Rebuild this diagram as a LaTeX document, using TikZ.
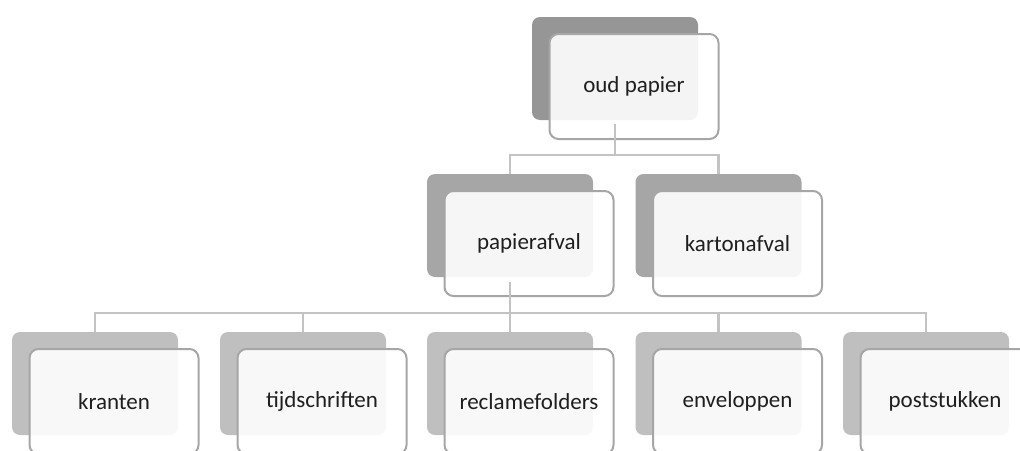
\documentclass[tikz,border=0pt]{standalone}
\usepackage{fontspec}
\setmainfont{Carlito}
\begin{document}
\definecolor{backA}{HTML}{969696}
\definecolor{backB}{HTML}{A6A6A6}
\definecolor{backC}{HTML}{BFBFBF}
\definecolor{edgegray}{HTML}{A6A6A6}
\definecolor{linkgray}{HTML}{C3C3C3}
\definecolor{inkgray}{HTML}{1F1F1F}
\begin{tikzpicture}[x=1pt,y=-1pt,
  backbox/.style={draw=none, rounded corners=8pt, minimum width=166pt, minimum height=103pt, inner sep=0pt},
  frontbox/.style={draw=edgegray, line width=2pt, fill=white, fill opacity=0.9, text opacity=1,
    rounded corners=9pt, minimum width=169pt, minimum height=105pt, inner sep=0pt,
    text=inkgray, font=\fontsize{23}{28}\selectfont},
  link/.style={draw=linkgray, line width=2.5pt}]
\useasboundingbox (0,0) rectangle (1020,450);
\clip (0,0) rectangle (1020,450);

% top level
\node[backbox, fill=backA] (b0) at (615,68.5) {};
\node[frontbox] (f0) at (634,86.5) {oud papier};

% second level
\node[backbox, fill=backB] (b1) at (510,225.5) {};
\node[frontbox] (f1) at (529,243.5) {papierafval};
\node[backbox, fill=backB] (b2) at (718.5,225.5) {};
\node[frontbox] (f2) at (737.5,243.5) {kartonafval};

% third level
\foreach \i/\x/\t in {3/95/kranten, 4/303/tijdschriften, 5/510/reclamefolders,
                       6/718.5/enveloppen, 7/926/poststukken}{
  \node[backbox, fill=backC] (b\i) at (\x,383.5) {};
  \node[frontbox] (f\i) at (\x+19,401.5) {\t};
}

% connectors
\coordinate (j0) at ([yshift=-35pt]b0.south);
\draw[link] ([yshift=-4pt]b0.south) -- (j0);
\draw[link] (j0) -| (b1.north);
\draw[link] (j0) -| (b2.north);
\coordinate (j1) at ([yshift=-36pt]b1.south);
\draw[link] ([yshift=-5pt]b1.south) -- (j1);
\foreach \i in {3,4,5,6,7}{
  \draw[link] (j1) -| (b\i.north);
}
\end{tikzpicture}
\end{document}
